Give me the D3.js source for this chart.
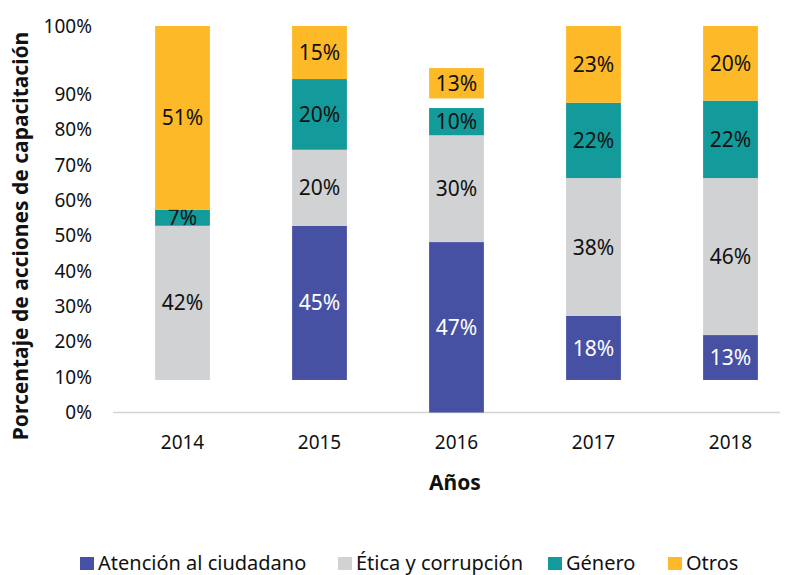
<!DOCTYPE html>
<html>
<head>
<meta charset="utf-8">
<script src="https://cdn.jsdelivr.net/npm/d3@7"></script>
<style>
  body { margin: 0; background: #fff; }
  text { font-family: "Noto Sans", sans-serif; }
</style>
</head>
<body>
<div id="chart"></div>
<script>
// categories
const years = ["2014", "2015", "2016", "2017", "2018"];
const series = ["Atención al ciudadano", "Ética y corrupción", "Género", "Otros"];

// segment extents [low, high] on the y axis
const atencion = [null, [9.2, 52.8], [0, 48.2], [9.2, 27.3], [9.2, 21.9]];
const etica = [[9.2, 52.8], [52.8, 74.3], [48.2, 78.4], [27.3, 66.3], [21.9, 66.3]];
const genero = [[52.8, 57.3], [74.3, 94.3], [78.4, 86.1], [66.3, 87.6], [66.3, 88.2]];
const otros = [[57.3, 109.3], [94.3, 109.3], [88.8, 97.4], [87.6, 109.3], [88.2, 109.3]];

// labels printed in the segments
const atencionLbl = [null, "45%", "47%", "18%", "13%"];
const eticaLbl = ["42%", "20%", "30%", "38%", "46%"];
const generoLbl = ["7%", "20%", "10%", "22%", "22%"];
const otrosLbl = ["51%", "15%", "13%", "23%", "20%"];

// y tick labels
const yTickVals = [0, 10, 20, 30, 40, 50, 60, 70, 80, 90, 109.3];
const yTickLabels = ["0%", "10%", "20%", "30%", "40%", "50%", "60%", "70%", "80%", "90%", "100%"];

const colors = ["#4751a3", "#d0d2d3", "#129b9a", "#fdb927"];
const labelColors = ["#fff", "#111", "#111", "#111"];

const svg = d3.select("#chart").append("svg")
    .attr("width", 793)
    .attr("height", 575);

var x = d3.scaleBand()
    .domain(years)
    .range([114, 799])
    .paddingInner(0.6)
    .paddingOuter(0.3);

var y = d3.scaleLinear()
    .domain([0, 109.3])
    .range([412.5, 26]);

var color = d3.scaleOrdinal().domain(series).range(colors);

// baseline
svg.append("line")
    .attr("x1", 113).attr("x2", 780)
    .attr("y1", y(0)).attr("y2", y(0))
    .attr("stroke", "#d4d4d4")
    .attr("stroke-width", 1.5);

// y axis
var gY = svg.append("g")
    .attr("transform", "translate(113,0)")
    .call(d3.axisLeft(y)
        .tickValues(yTickVals)
        .tickFormat((d, i) => yTickLabels[i])
        .tickSize(0)
        .tickPadding(21));
gY.select(".domain").remove();
gY.selectAll("text").attr("font-size", 19).attr("fill", "#111");

// x axis
var gX = svg.append("g")
    .attr("transform", "translate(0," + y(0) + ")")
    .call(d3.axisBottom(x).tickSize(0).tickPadding(23));
gX.select(".domain").remove();
gX.selectAll("text").attr("font-size", 19).attr("fill", "#111");

// stacked segments, bottom to top
const stacks = [
    { name: series[0], ext: atencion, lbl: atencionLbl },
    { name: series[1], ext: etica, lbl: eticaLbl },
    { name: series[2], ext: genero, lbl: generoLbl },
    { name: series[3], ext: otros, lbl: otrosLbl }
];

stacks.forEach((s, si) => {
    const rows = years.map((yr, i) => ({ year: yr, ext: s.ext[i], lbl: s.lbl[i] }))
        .filter(d => d.ext);
    const g = svg.append("g").attr("class", "series");
    g.selectAll("rect")
        .data(rows)
        .enter().append("rect")
        .attr("x", d => x(d.year))
        .attr("width", x.bandwidth())
        .attr("y", d => y(d.ext[1]))
        .attr("height", d => y(d.ext[0]) - y(d.ext[1]))
        .attr("fill", color(s.name));
    g.selectAll("text")
        .data(rows)
        .enter().append("text")
        .attr("x", d => x(d.year) + x.bandwidth() / 2)
        .attr("y", d => (y(d.ext[0]) + y(d.ext[1])) / 2)
        .attr("dy", "0.36em")
        .attr("text-anchor", "middle")
        .attr("font-size", 21)
        .attr("fill", labelColors[si])
        .text(d => d.lbl);
});

// axis titles
svg.append("text")
    .attr("transform", "translate(28,236) rotate(-90)")
    .attr("text-anchor", "middle")
    .attr("font-size", 21)
    .attr("font-weight", "bold")
    .attr("fill", "#111")
    .text("Porcentaje de acciones de capacitación");

svg.append("text")
    .attr("x", 455)
    .attr("y", 490)
    .attr("text-anchor", "middle")
    .attr("font-size", 21)
    .attr("font-weight", "bold")
    .attr("fill", "#111")
    .text("Años");

// legend
var legX = d3.scaleOrdinal().domain(series).range([80, 338, 548, 668]);
var leg = svg.append("g").selectAll("g")
    .data(series)
    .enter().append("g")
    .attr("transform", d => "translate(" + legX(d) + ",557)");
leg.append("rect")
    .attr("width", 14)
    .attr("height", 13)
    .attr("fill", d => color(d));
leg.append("text")
    .attr("x", 18)
    .attr("y", 13)
    .attr("font-size", 20)
    .attr("fill", "#111")
    .text(d => d);
</script>
</body>
</html>
